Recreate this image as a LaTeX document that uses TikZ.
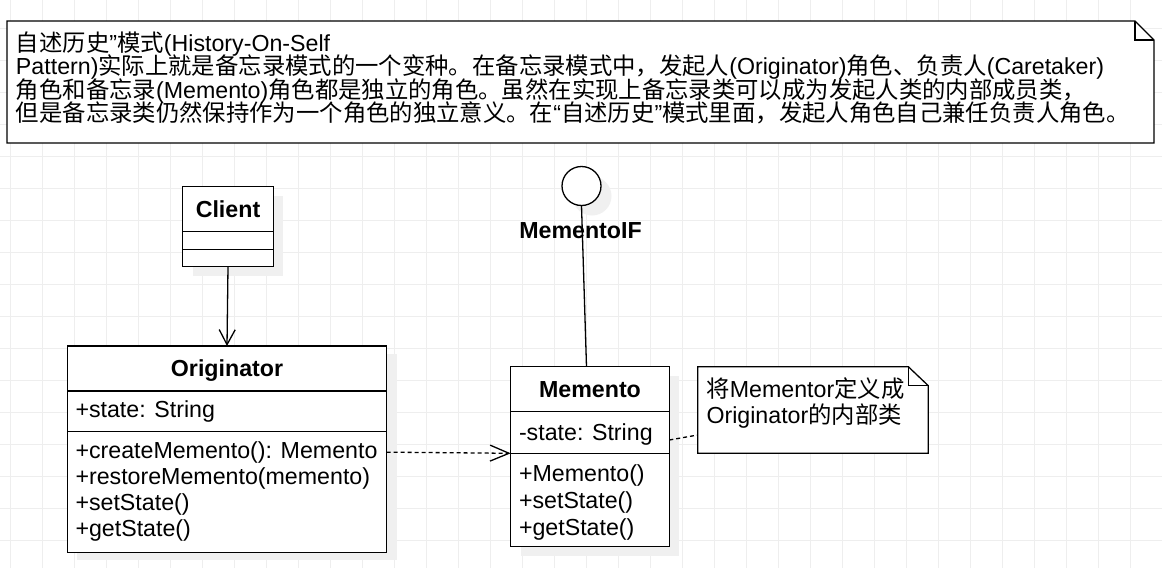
\documentclass[tikz,border=0pt]{standalone}
\usepackage{fontspec}
\setmainfont{Liberation Sans}
\newfontfamily\cjk[Scale=1.007]{Noto Sans CJK SC}
\usetikzlibrary{arrows.meta}
\definecolor{gridc}{RGB}{238,238,238}
\definecolor{shadowc}{RGB}{240,240,240}
\tikzset{
  ln/.style={line width=1.3pt, draw=black},
  umlbox/.style={ln, fill=white, inner sep=0pt, outer sep=0pt, rectangle},
  holder/.style={inner sep=0pt, outer sep=0pt, rectangle},
  shad/.style={fill=shadowc, draw=none},
  txt/.style={inner sep=0pt, outer sep=0pt, anchor=base west},
  ctxt/.style={inner sep=0pt, outer sep=0pt, anchor=base, font=\bfseries},
  dsh/.style={ln, dash pattern=on 4pt off 3pt},
  openarrow/.style={-{Straight Barb[length=#1, width=16pt, line width=1.3pt]}},
}
\begin{document}
\begin{tikzpicture}[x=1pt,y=-1pt]
\fontsize{23.2}{26}\selectfont
\useasboundingbox[fill=white] (0,0) rectangle (1162,568);
% grid
\foreach \gx in {10.5,42.5,...,1162} \draw[gridc, line width=1pt] (\gx,0) -- (\gx,568);
\foreach \gy in {28.5,60.5,...,568} \draw[gridc, line width=1pt] (0,\gy) -- (1162,\gy);

% ---------- top note ----------
\node[holder, minimum width=1147pt, minimum height=122pt, anchor=north west] (topnote) at (7,21) {};
\draw[ln, fill=white] (topnote.north west) -- ([xshift=-19pt]topnote.north east) -- ([yshift=-19pt]topnote.north east) -- (topnote.south east) -- (topnote.south west) -- cycle;
\draw[ln] ([xshift=-19pt]topnote.north east) -- ([xshift=-19pt,yshift=-19pt]topnote.north east) -- ([yshift=-19pt]topnote.north east);
\node[txt] (t1) at (16,51) {{\cjk 自述历史}”{\cjk 模式}(History-On-Self};
\node[txt] (t2) at (16,74.5) {Pattern){\cjk 实际上就是备忘录模式的一个变种。在备忘录模式中，发起人}(Originator){\cjk 角色、负责人}(Caretaker)};
\node[txt] (t3) at (16,98) {{\cjk 角色和备忘录}(Memento){\cjk 角色都是独立的角色。虽然在实现上备忘录类可以成为发起人类的内部成员类，}};
\node[txt] (t4) at (16,121.5) {{\cjk 但是备忘录类仍然保持作为一个角色的独立意义。在}“{\cjk 自述历史}”{\cjk 模式里面，发起人角色自己兼任负责人角色。}};

% ---------- shadows ----------
\fill[shad] (192.7,195.7) rectangle ++(90.6,80);
\fill[shad] (77.3,354) rectangle ++(319.4,206.3);
\fill[shad] (520.7,375.7) rectangle ++(158.6,180);
\fill[shad] (592,196) circle (19.5pt);

% ---------- Client ----------
\node[umlbox, minimum width=90.6pt, minimum height=80pt, anchor=north west] (client) at (182.7,186.7) {};
\draw[ln] (182.7,231.7) -- (273.3,231.7);
\draw[ln] (182.7,249.5) -- (273.3,249.5);
\node[ctxt] (clientname) at (228,217) {Client};

% ---------- Originator ----------
\node[umlbox, minimum width=319.4pt, minimum height=206.3pt, anchor=north west] (orig) at (67.3,346) {};
\draw[ln] (67.3,391) -- (386.7,391);
\draw[ln] (67.3,431.7) -- (386.7,431.7);
\node[ctxt] (origname) at (227,376.5) {Originator};
\node[txt] (o1) at (75.5,417.5) {+state: String};
\node[txt] (o2) at (75.5,458.5) {+createMemento(): Memento};
\node[txt] (o3) at (75.5,484.5) {+restoreMemento(memento)};
\node[txt] (o4) at (75.5,510.5) {+setState()};
\node[txt] (o5) at (75.5,536.5) {+getState()};

% ---------- Memento ----------
\node[umlbox, minimum width=158.6pt, minimum height=180pt, anchor=north west] (mem) at (510.7,366.7) {};
\node[holder, minimum width=158.6pt, minimum height=41.6pt, anchor=north west] (mattr) at (510.7,411.7) {};
\draw[ln] (mattr.north west) -- (mattr.north east);
\draw[ln] (mattr.south west) -- (mattr.south east);
\node[ctxt] (memname) at (590,397.5) {Memento};
\node[txt] (m1) at (519,440) {-state: String};
\node[txt] (m2) at (519,481) {+Memento()};
\node[txt] (m3) at (519,508) {+setState()};
\node[txt] (m4) at (519,535) {+getState()};

% ---------- side note ----------
\node[holder, minimum width=230.6pt, minimum height=86.6pt, anchor=north west] (snote) at (697.7,366.7) {};
\draw[ln, fill=white] (snote.north west) -- ([xshift=-20pt]snote.north east) -- ([yshift=-19pt]snote.north east) -- (snote.south east) -- (snote.south west) -- cycle;
\draw[ln] ([xshift=-20pt]snote.north east) -- ([xshift=-20pt,yshift=-19pt]snote.north east) -- ([yshift=-19pt]snote.north east);
\node[txt] (s1) at (706.5,397) {{\cjk 将}Mementor{\cjk 定义成}};
\node[txt] (s2) at (706.5,423.5) {Originator{\cjk 的内部类}};

% ---------- interface ----------
\node[umlbox, circle, minimum size=39pt] (iface) at (581.5,186) {};
\node[ctxt] (ifacename) at (580.5,238.5) {MementoIF};

% ---------- connectors ----------
\draw[ln, openarrow=15pt] (client.south) -- (orig.north);
\draw[dsh, openarrow=19pt] ([yshift=-3pt]orig.east) -- (mattr.south west);
\draw[ln] (iface.south) -- ([xshift=-3.5pt]mem.north);
\draw[dsh] ([yshift=-7.5pt]mattr.east) -- ([yshift=-25pt]snote.west);
\end{tikzpicture}
\end{document}
